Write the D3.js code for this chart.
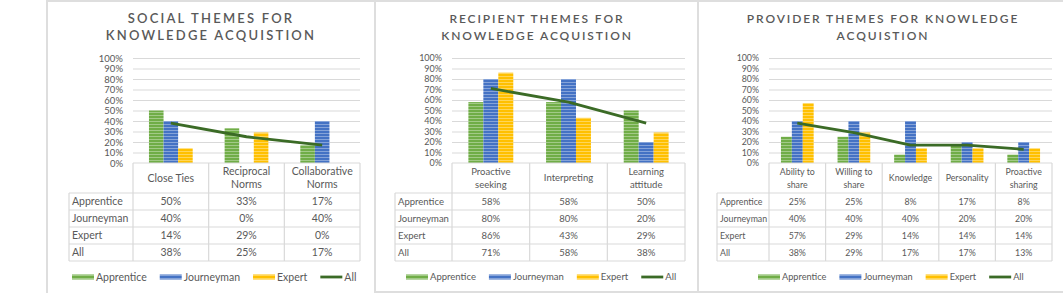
<!DOCTYPE html>
<html>
<head>
<meta charset="utf-8">
<script src="https://cdn.jsdelivr.net/npm/d3@7"></script>
<style>
  body { margin: 0; background: #fff; }
  svg { display: block; font-family: Lato, "Open Sans", sans-serif; }
  .grid line { stroke: #d9d9d9; stroke-width: 1; }
  .grid path { display: none; }
  .yaxis path, .yaxis line { display: none; }
  .yaxis text { fill: #595959; font-family: Lato, sans-serif; }
</style>
</head>
<body>
<div id="chart"></div>
<script>
const seriesNames = ["Apprentice", "Journeyman", "Expert", "All"];
const yTicks = [0, 0.1, 0.2, 0.3, 0.4, 0.5, 0.6, 0.7, 0.8, 0.9, 1];

// Social themes
const socialTitle = ["SOCIAL THEMES FOR", "KNOWLEDGE ACQUISTION"];
const socialCategories = ["Close Ties", "Reciprocal\nNorms", "Collaborative\nNorms"];
const socialApprentice = [0.50, 0.33, 0.17];
const socialJourneyman = [0.40, 0.00, 0.40];
const socialExpert = [0.14, 0.29, 0.00];
const socialAll = [0.38, 0.25, 0.17];

// Recipient themes
const recipientTitle = ["RECIPIENT THEMES FOR", "KNOWLEDGE ACQUISTION"];
const recipientCategories = ["Proactive\nseeking", "Interpreting", "Learning\nattitude"];
const recipientApprentice = [0.58, 0.58, 0.50];
const recipientJourneyman = [0.80, 0.80, 0.20];
const recipientExpert = [0.86, 0.43, 0.29];
const recipientAll = [0.71, 0.58, 0.38];

// Provider themes
const providerTitle = ["PROVIDER THEMES FOR KNOWLEDGE", "ACQUISTION"];
const providerCategories = ["Ability to\nshare", "Willing to\nshare", "Knowledge", "Personality", "Proactive\nsharing"];
const providerApprentice = [0.25, 0.25, 0.08, 0.17, 0.08];
const providerJourneyman = [0.40, 0.40, 0.40, 0.20, 0.20];
const providerExpert = [0.57, 0.29, 0.14, 0.14, 0.14];
const providerAll = [0.38, 0.29, 0.17, 0.17, 0.13];

const barColors = ["#70ad47", "#4472c4", "#ffc000"];
const lineColor = "#3b6b26";
const textColor = "#595959";
const rule = "#d9d9d9";

// layout of each panel (px in the 1063x293 frame)
const panels = [
  { title: socialTitle, cats: socialCategories,
    bars: [socialApprentice, socialJourneyman, socialExpert], all: socialAll,
    frame: [47, 1, 328, 300], cx: 211, plot: [133, 360], tableLeft: 69,
    titleSize: 13, titleSpacing: 2.2, fs: 10.5, tickSize: 9.5, legendSize: 10.5, legendX: 72 },
  { title: recipientTitle, cats: recipientCategories,
    bars: [recipientApprentice, recipientJourneyman, recipientExpert], all: recipientAll,
    frame: [375, 1, 323, 291], cx: 537, plot: [452, 685], tableLeft: 395,
    titleSize: 12, titleSpacing: 1.9, fs: 9.5, tickSize: 9, legendSize: 9.5, legendX: 406 },
  { title: providerTitle, cats: providerCategories,
    bars: [providerApprentice, providerJourneyman, providerExpert], all: providerAll,
    frame: [698, 1, 380, 291], cx: 883, plot: [769, 1052], tableLeft: 717,
    titleSize: 12, titleSpacing: 1.9, fs: 8.8, tickSize: 8.8, legendSize: 9.2, legendX: 758 }
];

const yTop = 58, yBase = 163, headerBottom = 193, rowH = 17;

const svg = d3.select("#chart").append("svg")
  .attr("width", 1063).attr("height", 293);

// striped fills for bars
const defs = svg.append("defs");
barColors.forEach((c, i) => {
  const p = defs.append("pattern").attr("id", "stripe" + i)
    .attr("patternUnits", "userSpaceOnUse").attr("width", 6).attr("height", 3);
  p.append("rect").attr("width", 6).attr("height", 3).attr("fill", c);
  p.append("rect").attr("y", 1).attr("width", 6).attr("height", 1)
    .attr("fill", d3.interpolateRgb(c, "#fff")(0.35));
});

const y = d3.scaleLinear().domain([0, 1]).range([yBase, yTop]);
const pct = d3.format(".0%");

panels.forEach(p => {
  const g = svg.append("g");
  const [x0, x1] = p.plot;

  g.append("rect")
    .attr("x", p.frame[0]).attr("y", p.frame[1])
    .attr("width", p.frame[2]).attr("height", p.frame[3])
    .attr("fill", "none").attr("stroke", "#dedede").attr("stroke-width", 2);

  // title
  p.title.forEach((t, i) => {
    g.append("text").attr("x", p.cx).attr("y", 23 + i * 17)
      .attr("text-anchor", "middle").attr("fill", textColor)
      .attr("font-size", p.titleSize).attr("font-weight", 600)
      .attr("letter-spacing", p.titleSpacing)
      .text(t);
  });

  // gridlines
  g.append("g").attr("class", "grid")
    .attr("transform", `translate(${x0},0)`)
    .call(d3.axisLeft(y).tickValues(yTicks.slice(1)).tickSize(-(x1 - x0)).tickFormat(""));

  g.append("g").attr("class", "yaxis")
    .attr("transform", `translate(${x0 - 10},0)`)
    .call(d3.axisLeft(y).tickValues(yTicks).tickSize(0).tickPadding(0).tickFormat(pct))
    .attr("font-size", p.tickSize)
    .selectAll("text").attr("font-size", p.tickSize);

  const x = d3.scaleBand().domain(p.cats).range([x0, x1]);
  const bw = x.bandwidth() / (3 + 2.19);
  const inner = d3.scaleBand().domain([0, 1, 2])
    .range([(x.bandwidth() - 3 * bw) / 2, (x.bandwidth() + 3 * bw) / 2]);

  p.bars.forEach((vals, s) => {
    g.append("g").selectAll("rect").data(vals).join("rect")
      .attr("x", (d, i) => x(p.cats[i]) + inner(s))
      .attr("width", inner.bandwidth())
      .attr("y", d => y(d))
      .attr("height", d => yBase - y(d))
      .attr("fill", `url(#stripe${s})`);
  });

  const line = d3.line()
    .x((d, i) => x(p.cats[i]) + x.bandwidth() / 2)
    .y(d => y(d));
  g.append("path").datum(p.all)
    .attr("d", line).attr("fill", "none")
    .attr("stroke", lineColor).attr("stroke-width", 2.8)
    .attr("stroke-linejoin", "round");

  // data table
  const tableBottom = headerBottom + rowH * 4;
  const tl = g.append("g").attr("stroke", rule).attr("stroke-width", 1.2);
  tl.append("line").attr("x1", x0).attr("x2", x1).attr("y1", yBase).attr("y2", yBase);
  [0, 1, 2, 3, 4].forEach(r => {
    tl.append("line").attr("x1", p.tableLeft).attr("x2", x1)
      .attr("y1", headerBottom + r * rowH).attr("y2", headerBottom + r * rowH);
  });
  tl.append("line").attr("x1", p.tableLeft).attr("x2", p.tableLeft)
    .attr("y1", headerBottom).attr("y2", tableBottom);
  p.cats.forEach(c => {
    tl.append("line").attr("x1", x(c)).attr("x2", x(c)).attr("y1", yBase).attr("y2", tableBottom);
  });
  tl.append("line").attr("x1", x1).attr("x2", x1).attr("y1", yBase).attr("y2", tableBottom);

  p.cats.forEach(c => {
    const lines = c.split("\n");
    const cy = (yBase + headerBottom) / 2;
    lines.forEach((l, i) => {
      g.append("text").attr("x", x(c) + x.bandwidth() / 2)
        .attr("y", cy + (i - (lines.length - 1) / 2) * 13)
        .attr("dy", "0.35em").attr("text-anchor", "middle")
        .attr("font-size", p.fs).attr("fill", textColor).text(l);
    });
  });

  const rows = [...p.bars, p.all];
  rows.forEach((vals, r) => {
    const ry = headerBottom + r * rowH + rowH / 2;
    g.append("text").attr("x", p.tableLeft + 3).attr("y", ry).attr("dy", "0.35em")
      .attr("font-size", p.fs).attr("fill", textColor).text(seriesNames[r]);
    g.append("g").selectAll("text").data(vals).join("text")
      .attr("x", (d, i) => x(p.cats[i]) + x.bandwidth() / 2)
      .attr("y", ry).attr("dy", "0.35em").attr("text-anchor", "middle")
      .attr("font-size", p.fs).attr("fill", textColor)
      .text(d => pct(d));
  });

  // legend
  const lg = g.append("g").attr("transform", `translate(${p.legendX},277)`);
  let lx = 0;
  seriesNames.forEach((name, s) => {
    if (s < 3) {
      lg.append("rect").attr("x", lx).attr("y", -2.5).attr("width", 22).attr("height", 5)
        .attr("fill", `url(#stripe${s})`);
    } else {
      lg.append("line").attr("x1", lx).attr("x2", lx + 22).attr("y1", 0).attr("y2", 0)
        .attr("stroke", lineColor).attr("stroke-width", 2.8);
    }
    const t = lg.append("text").attr("x", lx + 24).attr("y", 0).attr("dy", "0.35em")
      .attr("font-size", p.legendSize).attr("fill", textColor).text(name);
    lx += 24 + t.node().getComputedTextLength() + 13;
  });
});
</script>
</body>
</html>
